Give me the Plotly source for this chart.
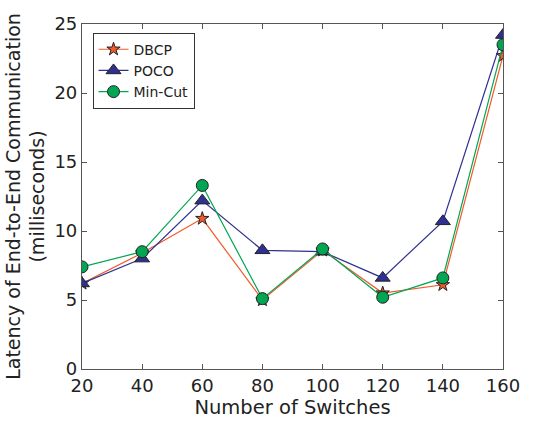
import plotly.graph_objects as go

switches = [20, 40, 60, 80, 100, 120, 140, 160]
dbcp = [6.2, 8.4, 10.9, 5.0, 8.6, 5.5, 6.1, 22.7]
poco = [6.2, 8.0, 12.2, 8.6, 8.5, 6.6, 10.7, 24.2]
mincut = [7.4, 8.5, 13.3, 5.1, 8.7, 5.2, 6.6, 23.5]

fig = go.Figure()
fig.add_trace(go.Scatter(x=switches, y=dbcp, name="DBCP", mode="lines+markers",
                         line=dict(color="#f15a2b", width=1.2),
                         marker=dict(symbol="star", size=10, color="#f15a2b",
                                     line=dict(color="#222", width=1))))
fig.add_trace(go.Scatter(x=switches, y=poco, name="POCO", mode="lines+markers",
                         line=dict(color="#2e3192", width=1.2),
                         marker=dict(symbol="triangle-up", size=13, color="#2e3192",
                                     line=dict(color="#222", width=1))))
fig.add_trace(go.Scatter(x=switches, y=mincut, name="Min-Cut", mode="lines+markers",
                         line=dict(color="#00a651", width=1.2),
                         marker=dict(symbol="circle", size=12, color="#00a651",
                                     line=dict(color="#222", width=1))))

axis_common = dict(showgrid=False, zeroline=False, showline=True, linecolor="#555",
                   linewidth=1.2, mirror="ticks", ticks="inside", ticklen=5,
                   tickcolor="#555", tickfont=dict(size=18, color="#222"))

fig.update_xaxes(range=[20, 160], tickvals=switches, **axis_common,
                 title=dict(text="Number of Switches", font=dict(size=19.5, color="#222"), standoff=0))
fig.update_yaxes(range=[0, 25], tickvals=[0, 5, 10, 15, 20, 25], **axis_common,
                 title=dict(text="Latency of End-to-End Communication<br>(milliseconds)",
                            font=dict(size=19, color="#222"), standoff=4))

fig.update_layout(
    width=549, height=423,
    margin=dict(l=77, r=46, t=24, b=54),
    plot_bgcolor="white", paper_bgcolor="white",
    font=dict(family="DejaVu Sans", color="#222"),
    legend=dict(x=0.025, y=0.975, xanchor="left", yanchor="top",
                bgcolor="white", bordercolor="#333", borderwidth=1,
                font=dict(size=14, color="#222")),
)

fig.write_html("out.html")
